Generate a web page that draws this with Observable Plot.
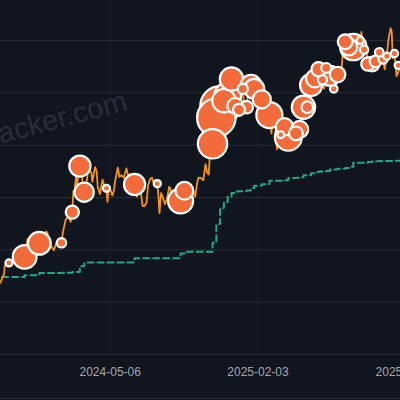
<!DOCTYPE html>
<html>
<head>
<meta charset="utf-8">
<script src="https://cdn.jsdelivr.net/npm/d3@7"></script>
<script src="https://cdn.jsdelivr.net/npm/@observablehq/plot@0.6"></script>
<style>
  html, body { margin: 0; padding: 0; background: #11151e; }
  #wrap { position: relative; width: 400px; height: 400px; overflow: hidden; background: #11151e; }
  #wrap svg { display: block; }
  #border { position: absolute; left: 0; top: 398px; width: 400px; height: 1px; background: #2a2e39; }
</style>
</head>
<body>
<div id="wrap"><div id="border"></div></div>
<script>
// ---- data ----
const priceDates = ["2023-10-10","2023-10-15","2023-10-18","2023-10-20","2023-10-23","2023-10-24","2023-10-28","2023-11-01","2023-11-05","2023-11-09","2023-11-12","2023-11-14","2023-11-17","2023-11-20","2023-11-24","2023-11-28","2023-11-30","2023-12-03","2023-12-05","2023-12-08","2023-12-11","2023-12-14","2023-12-17","2023-12-20","2023-12-23","2023-12-27","2023-12-31","2024-01-03","2024-01-08","2024-01-11","2024-01-13","2024-01-18","2024-01-23","2024-01-26","2024-01-29","2024-02-02","2024-02-06","2024-02-09","2024-02-14","2024-02-17","2024-02-20","2024-02-23","2024-02-26","2024-02-28","2024-03-01","2024-03-04","2024-03-05","2024-03-08","2024-03-11","2024-03-14","2024-03-16","2024-03-19","2024-03-22","2024-03-26","2024-03-29","2024-04-01","2024-04-03","2024-04-08","2024-04-11","2024-04-13","2024-04-17","2024-04-20","2024-04-22","2024-04-26","2024-04-29","2024-05-01","2024-05-03","2024-05-06","2024-05-10","2024-05-13","2024-05-15","2024-05-20","2024-05-23","2024-05-27","2024-05-31","2024-06-05","2024-06-07","2024-06-11","2024-06-14","2024-06-18","2024-06-20","2024-06-24","2024-06-27","2024-07-01","2024-07-05","2024-07-08","2024-07-12","2024-07-15","2024-07-19","2024-07-22","2024-07-25","2024-07-29","2024-08-01","2024-08-03","2024-08-05","2024-08-08","2024-08-12","2024-08-15","2024-08-19","2024-08-23","2024-08-26","2024-08-28","2024-09-02","2024-09-06","2024-09-09","2024-09-13","2024-09-17","2024-09-20","2024-09-24","2024-09-27","2024-09-30","2024-10-03","2024-10-07","2024-10-10","2024-10-14","2024-10-16","2024-10-21","2024-10-25","2024-10-29","2024-11-01","2024-11-04","2024-11-06","2024-11-09","2024-11-10","2024-11-12","2024-11-15","2024-11-18","2024-11-22","2024-11-26","2024-11-29","2024-12-02","2024-12-05","2024-12-09","2024-12-12","2024-12-17","2024-12-20","2024-12-23","2024-12-26","2024-12-30","2025-01-03","2025-01-06","2025-01-09","2025-01-13","2025-01-16","2025-01-20","2025-01-22","2025-01-27","2025-01-31","2025-02-03","2025-02-07","2025-02-10","2025-02-14","2025-02-17","2025-02-21","2025-02-24","2025-02-28","2025-03-02","2025-03-06","2025-03-10","2025-03-13","2025-03-17","2025-03-20","2025-03-24","2025-03-28","2025-03-31","2025-04-03","2025-04-07","2025-04-09","2025-04-14","2025-04-17","2025-04-21","2025-04-24","2025-04-28","2025-05-01","2025-05-05","2025-05-09","2025-05-12","2025-05-15","2025-05-19","2025-05-22","2025-05-26","2025-05-30","2025-06-02","2025-06-05","2025-06-09","2025-06-12","2025-06-16","2025-06-19","2025-06-22","2025-06-25","2025-06-30","2025-07-03","2025-07-07","2025-07-10","2025-07-14","2025-07-17","2025-07-21","2025-07-24","2025-07-28","2025-07-31","2025-08-03","2025-08-07","2025-08-11","2025-08-13","2025-08-15","2025-08-18","2025-08-22","2025-08-25","2025-08-29","2025-09-01","2025-09-04","2025-09-08","2025-09-12","2025-09-15","2025-09-18","2025-09-22","2025-09-25","2025-09-29","2025-10-02","2025-10-06","2025-10-08","2025-10-10","2025-10-13","2025-10-17","2025-10-21","2025-10-24","2025-10-27"];
const priceValues = [27400,27200,28300,29700,30500,33900,34100,35400,35000,36700,37100,35500,36600,37500,37700,37800,37700,39900,44100,44200,41200,43000,41400,43600,43700,43400,42300,42800,47000,46600,42900,41300,39900,41800,43300,43200,43000,47100,51800,52100,52300,50700,54500,62500,62400,68300,63800,68300,72100,71400,65300,62000,63800,69900,69900,69700,66000,71600,70000,63900,61300,64900,66800,63800,63400,58300,62900,63200,60800,62900,66200,71400,67900,68500,67500,71100,69300,67300,66000,65200,64900,60300,61600,62700,56700,56700,57900,64800,67100,67600,65800,66800,65300,60700,54000,61700,59400,57500,59500,64100,62900,59000,59100,54000,57000,60500,60300,63200,64300,65800,63300,60600,62200,60300,66000,67600,67400,66600,72700,69500,68800,75800,76700,80400,88700,91000,90500,98900,91900,97500,95900,98800,97400,100000,106100,97800,94700,95800,92600,98100,102100,92500,94500,100500,101300,103700,102000,102400,101400,96500,97400,97500,95800,96100,91600,84400,94300,90000,78500,80900,84000,84200,87500,84300,82500,83200,79200,82600,84500,84900,87500,93900,95000,96500,94700,103000,102800,103700,106000,111700,109400,104000,105800,101600,110200,105700,106800,104600,100900,107300,107100,109600,108200,116000,119800,119300,117400,118400,118000,115800,114200,117500,118700,123300,117400,116200,116900,110100,108400,109200,110700,112100,116000,115300,117100,112700,109000,114400,120500,124700,123300,113200,115300,106400,108500,111000,114500];

const costDates = ["2023-10-01","2023-11-01","2023-11-30","2023-12-27","2024-02-06","2024-02-26","2024-03-11","2024-03-19","2024-04-29","2024-06-20","2024-08-01","2024-09-13","2024-09-20","2024-11-11","2024-11-18","2024-11-25","2024-12-02","2024-12-09","2024-12-16","2024-12-23","2024-12-30","2025-01-06","2025-01-13","2025-01-21","2025-01-27","2025-02-10","2025-02-24","2025-03-17","2025-03-24","2025-03-31","2025-04-14","2025-04-21","2025-04-28","2025-05-05","2025-05-12","2025-05-19","2025-05-26","2025-06-02","2025-06-09","2025-06-16","2025-06-23","2025-06-30","2025-07-14","2025-07-21","2025-07-29","2025-08-11","2025-08-18","2025-08-25","2025-09-02","2025-09-08","2025-09-15","2025-09-22","2025-09-29","2025-10-13","2025-10-20","2025-11-10"];
const costValues = [29580,29610,30250,31170,31220,31540,33710,35160,35180,36800,36820,38590,39270,42690,49870,55990,58260,60320,61730,62260,62430,62500,62690,63610,64510,65030,66360,66360,66610,67460,67560,67770,68460,68550,69290,69730,69980,70020,70090,70670,70680,70980,71270,71760,73280,73290,73320,73530,73770,73880,73910,73970,73980,74000,74010,74010];

const buyDates = ["2023-11-01","2023-11-30","2023-12-27","2024-02-06","2024-02-26","2024-03-11","2024-03-19","2024-04-29","2024-06-20","2024-08-01","2024-09-13","2024-09-20","2024-11-11","2024-11-18","2024-11-25","2024-12-02","2024-12-09","2024-12-16","2024-12-23","2024-12-30","2025-01-06","2025-01-13","2025-01-21","2025-01-27","2025-02-10","2025-02-24","2025-03-17","2025-03-24","2025-03-31","2025-04-14","2025-04-21","2025-04-28","2025-05-05","2025-05-12","2025-05-19","2025-05-26","2025-06-02","2025-06-09","2025-06-16","2025-06-23","2025-06-30","2025-07-14","2025-07-21","2025-07-29","2025-08-11","2025-08-18","2025-08-25","2025-09-02","2025-09-08","2025-09-15","2025-09-22","2025-09-29","2025-10-13","2025-10-20"];
const buyBtc = [155,16130,14620,850,3000,12000,9245,164,11931,169,18300,7420,27200,51780,55500,15400,21550,15350,5262,2138,1070,2530,11000,10107,7633,20356,130,6911,22048,3459,6556,15355,1895,13390,7390,4020,705,1045,10100,245,4980,4225,6220,21021,155,430,3081,4048,1955,525,850,196,220,168];
const buyPrice = [35000,37300,42500,42700,54400,72000,62000,63500,65000,65300,58700,62600,80500,90500,95000,97000,99000,105300,95000,93500,101500,94500,103000,101500,97500,91500,84000,87000,83000,84500,86000,94500,94500,103000,105500,109000,105000,109500,106500,101500,107000,119500,117500,117500,120000,116500,111000,111000,112000,115500,113000,114000,115000,110500];

const yTicks = [0,20000,40000,60000,80000,100000,120000];
const xTickDates = ["2024-05-06","2025-02-03","2025-11-03"];
const watermark = "strategytracker.com";

// ---- build tables ----
const parse = d3.utcParse("%Y-%m-%d");
const price = priceDates.map((d, i) => ({date: parse(d), value: priceValues[i]}));
const cost = costDates.map((d, i) => ({date: parse(d), value: costValues[i]}));
const buys = buyDates.map((d, i) => ({date: parse(d), btc: buyBtc[i], value: buyPrice[i]}));
const xTicks = xTickDates.map(parse);

const chart = Plot.plot({
  width: 400,
  height: 400,
  marginTop: 0,
  marginLeft: 0,
  marginRight: 0,
  marginBottom: 46,
  style: {background: "#11151e", color: "#a3a7b0", fontFamily: "Liberation Sans, Arial, sans-serif"},
  x: {type: "utc", domain: [parse("2024-05-06"), parse("2025-02-03")], range: [109.7, 257.5], axis: null},
  y: {domain: [0, 120000], range: [354, 40], axis: null},
  r: {type: "sqrt", domain: [0, 55500], range: [2.6, 19.8]},
  marks: [
    Plot.text([watermark], {frameAnchor: "top-left", dx: 128, dy: 109, rotate: -15, textAnchor: "end", lineAnchor: "bottom", fontSize: 29, fill: "#292e3a", fontFamily: "Liberation Sans, Arial, sans-serif"}),
    Plot.gridX({ticks: xTicks, stroke: "#181c26", strokeOpacity: 1}),
    Plot.gridY({ticks: yTicks, stroke: "#292d38", strokeOpacity: 1, strokeWidth: 1}),
    Plot.line(cost, {x: "date", y: "value", curve: "step-after", stroke: "#26a68a", strokeWidth: 2, strokeDasharray: "6,4"}),
    Plot.line(price, {x: "date", y: "value", stroke: "#f7931a", strokeWidth: 1.8}),
    Plot.dot(buys, {x: "date", y: "value", r: "btc", fill: "#f26b3a", fillOpacity: 1, stroke: "#ffffff", strokeWidth: 2.2}),
    Plot.axisX({ticks: xTicks, tickFormat: d3.utcFormat("%Y-%m-%d"), tickSize: 0, tickPadding: 13, fontSize: 12, fill: "#a3a7b0"})
  ]
});
document.getElementById("wrap").prepend(chart);
</script>
</body>
</html>
